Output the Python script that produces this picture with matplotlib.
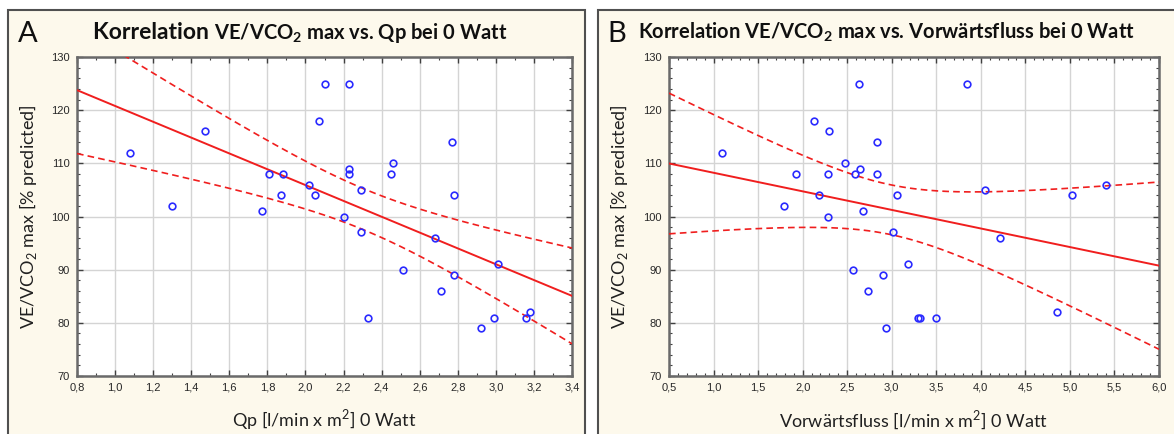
import numpy as np
import matplotlib
matplotlib.use("Agg")
import matplotlib.pyplot as plt
from matplotlib.patches import Rectangle
from matplotlib.ticker import FuncFormatter, MultipleLocator

# VE/VCO2 max [% predicted], same patients in both panels
y_a = [112, 102, 116, 125, 125, 118, 108, 108, 104, 106, 104, 109, 108, 105, 108, 110,
       114, 104, 101, 100, 97, 96, 90, 89, 86, 91, 81, 79, 81, 81, 82]
# Qp [l/min x m2] at 0 Watt
qp = [1.08, 1.30, 1.47, 2.10, 2.23, 2.07, 1.81, 1.88, 1.87, 2.02, 2.05, 2.23, 2.23, 2.29,
      2.45, 2.46, 2.77, 2.78, 1.77, 2.20, 2.29, 2.68, 2.51, 2.78, 2.71, 3.01, 2.33, 2.92,
      2.99, 3.16, 3.18]

y_b = [112, 102, 108, 118, 116, 108, 104, 100, 110, 125, 108, 109, 101, 114, 108, 104,
       125, 105, 104, 106, 97, 96, 90, 89, 86, 91, 81, 81, 81, 79, 82]
# Vorwaertsfluss [l/min x m2] at 0 Watt
vf = [1.09, 1.79, 1.93, 2.13, 2.30, 2.29, 2.18, 2.29, 2.47, 2.63, 2.59, 2.64, 2.68, 2.83,
      2.84, 3.06, 3.84, 4.05, 5.02, 5.40, 3.01, 4.22, 2.56, 2.90, 2.73, 3.18, 3.29, 3.32,
      3.50, 2.94, 4.85]

T_975 = 2.045  # t(0.975, df=29)

plt.rcParams['font.family'] = ['Lato', 'DejaVu Sans']
plt.rcParams['mathtext.fontset'] = 'custom'
plt.rcParams['mathtext.rm'] = 'Lato'
plt.rcParams['mathtext.bf'] = 'Lato:bold'

W, H = 1174, 434
fig = plt.figure(figsize=(W / 100, H / 100), dpi=100)
fig.patch.set_facecolor('white')

cream = '#fdf9ec'
for x0, x1 in [(8, 585), (598, 1190)]:
    fig.patches.append(Rectangle((x0 / W, -0.1), (x1 - x0) / W, 1.1 - 10 / H,
                                 transform=fig.transFigure, facecolor=cream,
                                 edgecolor='#505050', lw=1.5, zorder=-5))


def comma(v, pos):
    return ('%.1f' % v).replace('.', ',')


def panel(rect, x, y, xlim, xmajor, xminor, xlabel, ylab_x):
    ax = fig.add_axes(rect)
    ax.set_zorder(1)
    x = np.array(x)
    y = np.array(y)
    n = len(x)
    b, a = np.polyfit(x, y, 1)
    se = np.sqrt(np.sum((y - (a + b * x)) ** 2) / (n - 2))
    xm = x.mean()
    sxx = np.sum((x - xm) ** 2)
    xs = np.linspace(xlim[0], xlim[1], 200)
    fit = a + b * xs
    h = T_975 * se * np.sqrt(1 / n + (xs - xm) ** 2 / sxx)

    ax.plot(xs, fit, color='#f01e1e', lw=1.4, zorder=3)
    ax.plot(xs, fit + h, color='#f01e1e', lw=1.2, ls=(0, (4, 2.5)), zorder=3)
    ax.plot(xs, fit - h, color='#f01e1e', lw=1.2, ls=(0, (4, 2.5)), zorder=3)
    ax.plot(x, y, 'o', mfc='none', mec='#2a2aff', mew=1.2, ms=4.8, zorder=4)

    ax.set_xlim(*xlim)
    ax.set_ylim(70, 130)
    ax.xaxis.set_major_locator(MultipleLocator(xmajor))
    ax.xaxis.set_minor_locator(MultipleLocator(xminor))
    ax.yaxis.set_major_locator(MultipleLocator(10))
    ax.yaxis.set_minor_locator(MultipleLocator(2))
    ax.xaxis.set_major_formatter(FuncFormatter(comma))
    ax.grid(True, which='major', color='#d4d4d4', lw=1, zorder=0)
    ax.tick_params(which='both', direction='in', top=True, right=True,
                   color='#404040', labelsize=8, labelcolor='#282828', pad=5)
    ax.tick_params(which='major', length=4, width=1)
    ax.tick_params(which='minor', length=2.5, width=0.8)
    for lab in ax.get_xticklabels() + ax.get_yticklabels():
        lab.set_family('Liberation Sans')
    for s in ax.spines.values():
        s.set_color('#6a6a6a')
        s.set_linewidth(1.8)

    ax.set_xlabel(xlabel, fontsize=13, color='#202020')
    ax.xaxis.set_label_coords(0.5, -0.138)
    ax.xaxis.label.set_va('center')
    ax.set_ylabel('VE/VCO$_2$ max [% predicted]', fontsize=13, color='#202020')
    ax.yaxis.set_label_coords(ylab_x, 0.5)
    ax.yaxis.label.set_va('center')
    return ax


panel([77 / W, 1 - 376 / H, 495 / W, 319 / H], qp, y_a, (0.8, 3.4), 0.2, 0.1,
      'Qp [l/min x m$^2$] 0 Watt', -0.098)
panel([669 / W, 1 - 376 / H, 490 / W, 319 / H], vf, y_b, (0.5, 6.0), 0.5, 0.1,
      'Vorwärtsfluss [l/min x m$^2$] 0 Watt', -0.103)

# panel letters and titles
fig.text(18 / W, 1 - 42 / H, 'A', fontsize=21, va='baseline', color='#101010')
fig.text(607 / W, 1 - 42 / H, 'B', fontsize=21, va='baseline', color='#101010')

t1 = fig.text(93 / W, 1 - 39 / H, 'Korrelation ', fontsize=16.5, fontweight='bold',
              va='baseline', color='#101010')
renderer = fig.canvas.get_renderer()
w1 = t1.get_window_extent(renderer).width
fig.text((93 + w1) / W, 1 - 39 / H, 'VE/VCO$_\\mathbf{2}$ max vs. Qp bei 0 Watt',
         fontsize=14.5, fontweight='bold', va='baseline', color='#101010')
fig.text(638 / W, 1 - 39 / H, 'Korrelation VE/VCO$_\\mathbf{2}$ max vs. Vorwärtsfluss bei 0 Watt',
         fontsize=14.5, fontweight='bold', va='baseline', color='#101010')

fig.savefig('out.png', dpi=100, facecolor=fig.get_facecolor())
